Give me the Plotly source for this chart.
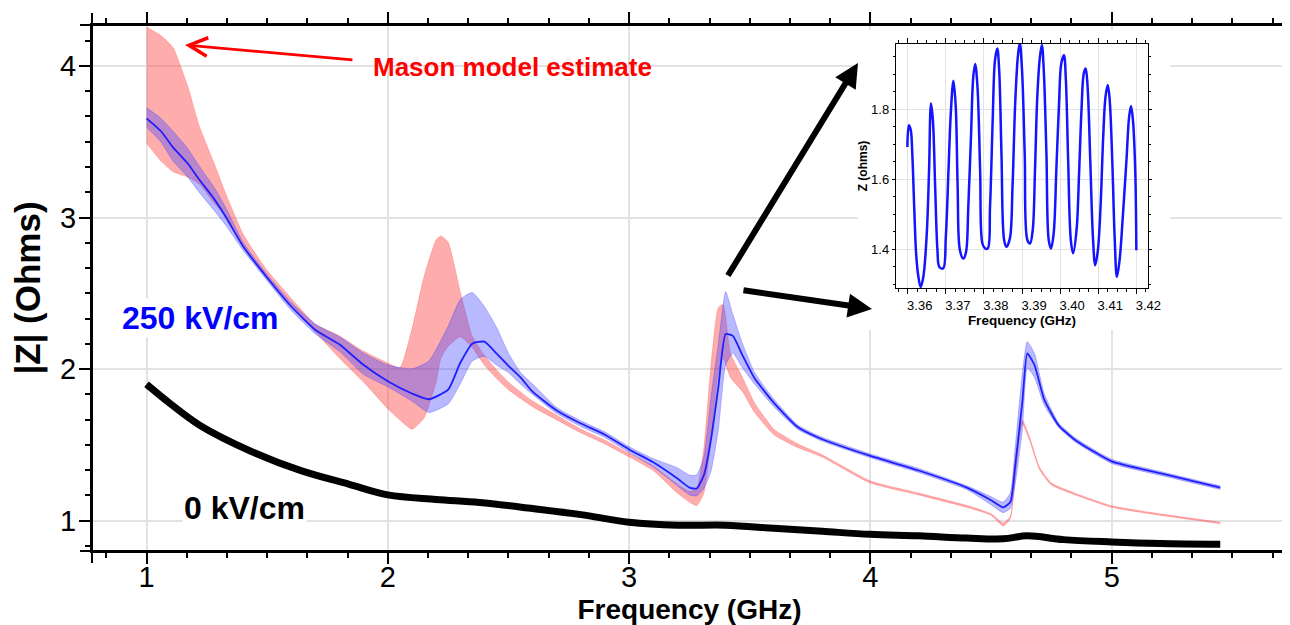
import plotly.graph_objects as go

# 0 kV/cm measurement (black)
black_freq = [1.0, 1.1, 1.22, 1.43, 1.64, 1.84, 2.0, 2.2, 2.38, 2.6, 2.8, 3.0, 3.2, 3.4, 3.6, 3.8,
              4.0, 4.2, 4.4, 4.55, 4.65, 4.8, 5.0, 5.2, 5.45]
black_z = [1.90, 1.77, 1.63, 1.46, 1.33, 1.24, 1.17, 1.14, 1.12, 1.08, 1.04, 0.99, 0.97, 0.97, 0.95, 0.93,
           0.91, 0.90, 0.885, 0.88, 0.90, 0.875, 0.86, 0.85, 0.845]

# 250 kV/cm measurement (blue band: upper / lower envelope and centre line)
blue_freq = [1.00, 1.06, 1.11, 1.17, 1.22, 1.28, 1.33, 1.40, 1.50, 1.60, 1.70, 1.80, 1.90, 2.00, 2.10,
             2.17, 2.25, 2.30, 2.35, 2.40, 2.45, 2.50, 2.55, 2.60, 2.70, 2.80, 2.90, 3.00, 3.10, 3.20,
             3.25, 3.28, 3.31, 3.34, 3.37, 3.40, 3.43, 3.47, 3.52, 3.60, 3.70, 3.80, 4.00, 4.20, 4.40,
             4.50, 4.55, 4.58, 4.60, 4.63, 4.65, 4.68, 4.72, 4.78, 4.85, 5.00, 5.20, 5.45]
blue_upper = [3.725, 3.654, 3.569, 3.456, 3.337, 3.199, 3.061, 2.837, 2.623, 2.439, 2.296, 2.213, 2.104,
              2.027, 2.002, 2.053, 2.283, 2.459, 2.505, 2.413, 2.277, 2.104, 1.977, 1.901, 1.746, 1.659,
              1.585, 1.488, 1.409, 1.349, 1.301, 1.301, 1.421, 1.820, 2.168, 2.511, 2.361, 2.168, 1.977,
              1.801, 1.630, 1.550, 1.440, 1.345, 1.230, 1.158, 1.123, 1.182, 1.482, 1.977, 2.181, 2.104,
              1.839, 1.645, 1.545, 1.405, 1.325, 1.230]
blue_lower = [3.597, 3.498, 3.372, 3.268, 3.164, 3.047, 2.945, 2.784, 2.583, 2.387, 2.232, 2.117, 1.964,
              1.883, 1.789, 1.714, 1.770, 1.901, 2.053, 2.085, 2.027, 1.977, 1.901, 1.833, 1.708, 1.622,
              1.549, 1.451, 1.355, 1.230, 1.170, 1.164, 1.212, 1.331, 1.604, 2.027, 2.104, 2.008, 1.901,
              1.752, 1.602, 1.525, 1.415, 1.318, 1.205, 1.105, 1.053, 1.082, 1.242, 1.604, 2.008, 1.945,
              1.764, 1.615, 1.518, 1.378, 1.300, 1.206]
blue_mid = [3.654, 3.569, 3.463, 3.358, 3.247, 3.123, 3.000, 2.810, 2.603, 2.413, 2.258, 2.162, 2.027,
            1.920, 1.839, 1.801, 1.864, 2.040, 2.168, 2.181, 2.104, 2.021, 1.945, 1.851, 1.727, 1.641,
            1.567, 1.470, 1.385, 1.278, 1.218, 1.212, 1.301, 1.543, 1.883, 2.232, 2.219, 2.091, 1.939,
            1.777, 1.616, 1.537, 1.427, 1.331, 1.218, 1.135, 1.088, 1.123, 1.361, 1.789, 2.104, 2.027,
            1.801, 1.629, 1.531, 1.391, 1.313, 1.218]

# Mason model estimate (red band)
red_freq = [1.00, 1.06, 1.11, 1.17, 1.22, 1.28, 1.33, 1.40, 1.50, 1.60, 1.70, 1.80, 1.90, 2.00, 2.05,
            2.10, 2.15, 2.20, 2.22, 2.25, 2.30, 2.35, 2.40, 2.45, 2.50, 2.60, 2.70, 2.80, 2.90, 3.00,
            3.10, 3.20, 3.25, 3.28, 3.31, 3.34, 3.37, 3.39, 3.42, 3.47, 3.52, 3.60, 3.70, 3.80, 4.00,
            4.20, 4.40, 4.50, 4.55, 4.58, 4.60, 4.62, 4.63, 4.66, 4.70, 4.75, 4.85, 5.00, 5.20, 5.45]
red_upper = [4.257, 4.20, 4.12, 3.87, 3.597, 3.358, 3.150, 2.891, 2.65, 2.466, 2.296, 2.219, 2.117, 2.040,
             2.008, 2.264, 2.610, 2.851, 2.878, 2.837, 2.511, 2.219, 2.091, 1.996, 1.914, 1.789, 1.696,
             1.604, 1.531, 1.445, 1.361, 1.242, 1.194, 1.212, 1.482, 2.040, 2.407, 2.426, 2.104, 1.945,
             1.777, 1.604, 1.506, 1.435, 1.262, 1.182, 1.100, 1.046, 0.985, 1.030, 1.310, 1.604, 1.665,
             1.550, 1.355, 1.248, 1.180, 1.098, 1.045, 0.990]
red_lower = [3.491, 3.372, 3.302, 3.268, 3.219, 3.095, 3.007, 2.810, 2.597, 2.426, 2.245, 2.072, 1.914,
             1.739, 1.665, 1.604, 1.677, 1.914, 2.072, 2.149, 2.213, 2.142, 2.027, 1.939, 1.864, 1.752,
             1.665, 1.580, 1.506, 1.421, 1.331, 1.182, 1.123, 1.099, 1.182, 1.543, 1.977, 2.072, 1.945,
             1.851, 1.715, 1.567, 1.482, 1.420, 1.248, 1.170, 1.088, 1.036, 0.965, 1.015, 1.290, 1.580,
             1.640, 1.530, 1.340, 1.236, 1.170, 1.088, 1.036, 0.980]

# Inset: zoom of the 250 kV/cm curve near 3.39 GHz
inset_freq = [3.3599, 3.3603, 3.3608, 3.3612, 3.3617, 3.3622, 3.3628, 3.3634, 3.3641, 3.3650, 3.3656,
              3.3661, 3.3666, 3.3672, 3.3678, 3.3683, 3.3693, 3.3700, 3.3707, 3.3713, 3.3720, 3.3726,
              3.3731, 3.3737, 3.3746, 3.3753, 3.3759, 3.3766, 3.3772, 3.3777, 3.3783, 3.3790, 3.3796,
              3.3803, 3.3810, 3.3816, 3.3823, 3.3829, 3.3835, 3.3840, 3.3846, 3.3853, 3.3859, 3.3868,
              3.3875, 3.3882, 3.3889, 3.3894, 3.3900, 3.3907, 3.3914, 3.3921, 3.3928, 3.3934, 3.3940,
              3.3947, 3.3952, 3.3957, 3.3964, 3.3970, 3.3976, 3.3983, 3.3990, 3.3997, 3.4003, 3.4010,
              3.4015, 3.4021, 3.4028, 3.4034, 3.4043, 3.4050, 3.4056, 3.4062, 3.4067, 3.4072, 3.4079,
              3.4086, 3.4092, 3.4099, 3.4106, 3.4113, 3.4119, 3.4125, 3.4130, 3.4137, 3.4143, 3.4149,
              3.4156, 3.4165, 3.4174, 3.4181, 3.4186, 3.4191, 3.4197, 3.4200]
inset_z = [1.693, 1.755, 1.741, 1.674, 1.522, 1.389, 1.322, 1.293, 1.322, 1.446, 1.627,
           1.817, 1.770, 1.579, 1.398, 1.350, 1.346, 1.436, 1.627, 1.789, 1.882, 1.808,
           1.579, 1.398, 1.374, 1.393, 1.522, 1.722, 1.893, 1.930, 1.865, 1.627, 1.417,
           1.403, 1.403, 1.522, 1.770, 1.941, 1.974, 1.912, 1.674, 1.427, 1.408, 1.431,
           1.579, 1.817, 1.951, 1.990, 1.912, 1.674, 1.427, 1.417, 1.455, 1.627, 1.836,
           1.951, 1.984, 1.912, 1.674, 1.427, 1.403, 1.446, 1.627, 1.817, 1.931, 1.955,
           1.884, 1.655, 1.427, 1.389, 1.455, 1.627, 1.798, 1.903, 1.917, 1.865, 1.655,
           1.436, 1.355, 1.398, 1.522, 1.722, 1.836, 1.870, 1.827, 1.646, 1.436, 1.322,
           1.370, 1.503, 1.655, 1.779, 1.810, 1.770, 1.627, 1.398]

FONT = 'Liberation Sans, Arial, sans-serif'

fig = go.Figure()

# red band
fig.add_trace(go.Scatter(x=red_freq, y=red_upper, mode='lines',
                         line=dict(color='rgba(255,40,40,0.3)', width=0.8, shape='spline', smoothing=0.5),
                         showlegend=False, hoverinfo='skip'))
fig.add_trace(go.Scatter(x=red_freq, y=red_lower, mode='lines',
                         line=dict(color='rgba(255,40,40,0.3)', width=0.8, shape='spline', smoothing=0.5),
                         fill='tonexty', fillcolor='rgba(255,70,70,0.45)',
                         showlegend=False, hoverinfo='skip'))

# blue band
fig.add_trace(go.Scatter(x=blue_freq, y=blue_upper, mode='lines',
                         line=dict(color='rgba(60,60,255,0.4)', width=0.8, shape='spline', smoothing=0.5),
                         showlegend=False, hoverinfo='skip'))
fig.add_trace(go.Scatter(x=blue_freq, y=blue_lower, mode='lines',
                         line=dict(color='rgba(60,60,255,0.4)', width=0.8, shape='spline', smoothing=0.5),
                         fill='tonexty', fillcolor='rgba(70,70,255,0.38)',
                         showlegend=False, hoverinfo='skip'))
fig.add_trace(go.Scatter(x=blue_freq, y=blue_mid, mode='lines',
                         line=dict(color='rgb(30,30,255)', width=1.8, shape='spline', smoothing=0.5),
                         showlegend=False, hoverinfo='skip'))

# black 0 kV/cm
fig.add_trace(go.Scatter(x=black_freq, y=black_z, mode='lines',
                         line=dict(color='black', width=7, shape='spline'),
                         showlegend=False, hoverinfo='skip'))

# inset
fig.add_trace(go.Scatter(x=inset_freq, y=inset_z, mode='lines', xaxis='x2', yaxis='y2',
                         line=dict(color='rgb(20,20,255)', width=2.5, shape='spline'),
                         showlegend=False, hoverinfo='skip'))

axis_main = dict(showline=True, linecolor='black', linewidth=2, mirror='allticks',
                 ticks='outside', ticklen=11, tickwidth=2, tickcolor='black', automargin=False,
                 showgrid=True, gridcolor='rgb(226,226,226)', gridwidth=1.5, zeroline=False,
                 tickfont=dict(family=FONT, size=29, color='black'),
                 minor=dict(dtick=1 / 6, ticklen=5, tickwidth=1.5, tickcolor='black', showgrid=False))

axis_inset = dict(showline=True, linecolor='black', linewidth=1, mirror='allticks',
                  ticks='outside', ticklen=5, tickwidth=1, tickcolor='black', automargin=False,
                  showgrid=True, gridcolor='rgb(226,226,226)', gridwidth=1, zeroline=False,
                  tickfont=dict(family=FONT, size=13, color='black'))

# the page body has an 8px margin, so the figure is 8px smaller and the margins shifted
fig.update_layout(
    width=1282, height=617,
    margin=dict(l=84, r=3, t=17, b=74),
    paper_bgcolor='white', plot_bgcolor='white',
    xaxis=dict(axis_main, range=[0.774, 5.7265], dtick=1, tick0=0, ticklabelstandoff=-12,
               title=dict(text='<b>Frequency (GHz)</b>', standoff=8,
                          font=dict(family=FONT, size=28, color='black'))),
    yaxis=dict(axis_main, range=[0.80, 4.27], dtick=1, tick0=0, ticklabelstandoff=-3,
               title=dict(text='<b>|Z| (Ohms)</b>', standoff=20,
                          font=dict(family=FONT, size=35, color='black'))),
    xaxis2=dict(axis_inset, domain=[0.6726, 0.8837], anchor='y2', range=[3.35686, 3.42306],
                dtick=0.01, tick0=3.36, tickformat='.2f', ticklabelshift=12,
                minor=dict(dtick=0.0025, ticklen=3, tickcolor='black', showgrid=False),
                title=dict(text='<b>Frequency (GHz)</b>', standoff=1,
                           font=dict(family=FONT, size=13.5, color='black'))),
    yaxis2=dict(axis_inset, domain=[0.500, 0.9639], anchor='x2', range=[1.29, 1.987],
                tickvals=[1.4, 1.6, 1.8], tickformat='.1f', ticklen=3,
                minor=dict(dtick=0.05, ticklen=2, tickcolor='black', showgrid=False),
                title=dict(text='<b>Z (ohms)</b>', standoff=0,
                           font=dict(family=FONT, size=12, color='black'))),
)

# white patch hiding the main grid behind the inset
fig.add_shape(type='rect', xref='x', yref='y', x0=3.948, x1=5.242, y0=2.258, y1=4.237,
              fillcolor='white', line=dict(width=0), layer='between')

# axis overhangs at the frame corners
for x0, y0, x1, y1 in [(0, -0.0228, 0, 1.0228), (1, -0.0228, 1, 1.0228),
                       (-0.01, 0, 1.01, 0), (-0.01, 1, 1.01, 1)]:
    fig.add_shape(type='line', xref='paper', yref='paper', x0=x0, y0=y0, x1=x1, y1=y1,
                  line=dict(color='black', width=2))

# labels
label = dict(xref='paper', yref='paper', showarrow=False, xanchor='center', yanchor='middle')
fig.add_annotation(x=0.3515, y=0.920, text='<b>Mason model estimate</b>',
                   font=dict(family=FONT, size=26, color='red'), **label)
fig.add_annotation(x=0.0904, y=0.443, text='<b>250 kV/cm</b>', bgcolor='white',
                   font=dict(family=FONT, size=32, color='blue'), **label)
fig.add_annotation(x=0.128, y=0.0817, text='<b>0 kV/cm</b>', bgcolor='white',
                   font=dict(family=FONT, size=32, color='black'), **label)

# arrows (positions as fractions of the main plot area)
arrow_ref = dict(xref='x domain', yref='y domain', axref='x domain', ayref='y domain',
                 text='', showarrow=True)
fig.add_annotation(x=0.0778, y=0.962, ax=0.2192, ay=0.9335, arrowhead=5, arrowsize=1.3,
                   arrowwidth=2.8, arrowcolor='red', **arrow_ref)
fig.add_annotation(x=0.641, y=0.9278, ax=0.5314, ay=0.5209, arrowhead=2, arrowsize=0.8,
                   arrowwidth=6, arrowcolor='black', **arrow_ref)
fig.add_annotation(x=0.6527, y=0.4601, ax=0.5439, ay=0.4962, arrowhead=2, arrowsize=0.8,
                   arrowwidth=6, arrowcolor='black', **arrow_ref)

fig.write_html("out.html")
